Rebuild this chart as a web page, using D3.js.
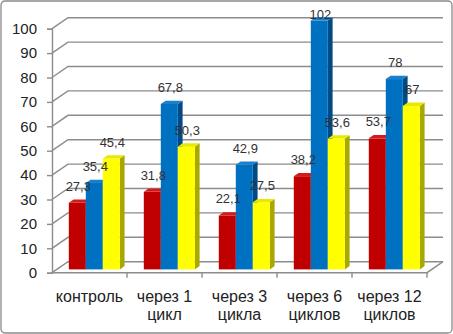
<!DOCTYPE html>
<html>
<head>
<meta charset="utf-8">
<script src="https://cdn.jsdelivr.net/npm/d3@7"></script>
<style>
  body { margin: 0; background: #fff; }
  text { font-family: "Liberation Sans", Arial, sans-serif; }
</style>
</head>
<body>
<svg id="chart" width="453" height="334"></svg>
<script>
// data
var categories = ["контроль", "через 1|цикл", "через 3|цикла", "через 6|циклов", "через 12|циклов"];
var series1 = [27.3, 31.8, 22.1, 38.2, 53.7];
var series2 = [35.4, 67.8, 42.9, 102, 78];
var series3 = [45.4, 50.3, 27.5, 53.6, 67];
var yTicks = [0, 10, 20, 30, 40, 50, 60, 70, 80, 90, 100];

var colors = [
    { front: "#c00000", side: "#7e0000", top: "#d21c1c" },
    { front: "#0070c0", side: "#004a86", top: "#1a80cc" },
    { front: "#ffff00", side: "#a8a800", top: "#e8e800" }
];

function drawChart() {
    var svg = d3.select("#chart");

    // outer frame
    svg.append("rect")
        .attr("x", 1).attr("y", 1).attr("width", 451).attr("height", 332)
        .attr("rx", 4)
        .attr("fill", "#fff").attr("stroke", "#8a8a8a").attr("stroke-width", 1.3);

    var pLeft = 52, pRight = 427, pBottom = 272.7, pTop = 28.7;
    var depth = { dx: 16, dy: -11 };
    var f0 = 0.3, f1 = 0.6;   // bar depth slice

    var x = d3.scaleBand().domain(d3.range(categories.length)).range([pLeft, pRight]);
    var y = d3.scaleLinear().domain([0, 100]).range([pBottom, pTop]);
    var bar = 17;
    var grid = "#8c8c8c";

    var g = svg.append("g");

    // back wall gridlines + left wall diagonals
    yTicks.forEach(function (t) {
        g.append("polyline")
            .attr("points", [[pLeft, y(t)], [pLeft + depth.dx, y(t) + depth.dy], [pRight + depth.dx, y(t) + depth.dy]].join(" "))
            .attr("fill", "none").attr("stroke", grid).attr("stroke-width", 1.4);
    });

    // floor
    g.append("polyline")
        .attr("points", [[pLeft, pBottom], [pRight, pBottom], [pRight + depth.dx, pBottom + depth.dy]].join(" "))
        .attr("fill", "none").attr("stroke", grid).attr("stroke-width", 1.4);

    // y axis
    var yAxis = g.append("g")
        .attr("transform", "translate(" + pLeft + ",0)")
        .call(d3.axisLeft(y).tickValues(yTicks).tickSize(5).tickPadding(10));
    yAxis.select(".domain").attr("stroke", grid).attr("stroke-width", 1.4);
    yAxis.selectAll(".tick line").attr("stroke", grid).attr("stroke-width", 1.4);
    yAxis.selectAll(".tick text").attr("font-size", 15).attr("fill", "#222")
        .attr("font-family", "Liberation Sans, Arial, sans-serif");

    // x axis ticks at category boundaries
    g.selectAll(".xtick")
        .data(d3.range(categories.length))
        .enter().append("line")
        .attr("x1", function (d) { return x(d) + x.bandwidth(); })
        .attr("x2", function (d) { return x(d) + x.bandwidth(); })
        .attr("y1", pBottom).attr("y2", pBottom + 5)
        .attr("stroke", grid).attr("stroke-width", 1.4);

    // category labels
    var cat = g.selectAll(".cat")
        .data(categories)
        .enter().append("text")
        .attr("text-anchor", "middle")
        .attr("font-size", 16)
        .attr("fill", "#222");
    cat.each(function (d, i) {
        var lines = d.split("|");
        var t = d3.select(this);
        lines.forEach(function (l, j) {
            t.append("tspan")
                .attr("x", x(i) + x.bandwidth() / 2)
                .attr("y", 302 + j * 18)
                .text(l);
        });
    });

    // bars
    var allSeries = [series1, series2, series3];
    var ox = depth.dx * f0, oy = depth.dy * f0;
    var sx = depth.dx * (f1 - f0), sy = depth.dy * (f1 - f0);
    var groupW = bar * allSeries.length;

    categories.forEach(function (c, i) {
        var x0 = x(i) + (x.bandwidth() - groupW) / 2 + ox;
        allSeries.forEach(function (s, k) {
            var v = s[i];
            var bx = x0 + k * bar;
            var yt = y(v) + oy, yb = y(0) + oy;
            var col = colors[k];
            // side
            g.append("polygon")
                .attr("points", [[bx + bar, yt], [bx + bar + sx, yt + sy], [bx + bar + sx, yb + sy], [bx + bar, yb]].join(" "))
                .attr("fill", col.side);
            // front
            g.append("rect")
                .attr("x", bx).attr("y", yt).attr("width", bar).attr("height", yb - yt)
                .attr("fill", col.front);
            // top
            g.append("polygon")
                .attr("points", [[bx, yt], [bx + bar, yt], [bx + bar + sx, yt + sy], [bx + sx, yt + sy]].join(" "))
                .attr("fill", col.top);
        });
    });

    // data labels
    categories.forEach(function (c, i) {
        var x0 = x(i) + (x.bandwidth() - groupW) / 2 + ox;
        allSeries.forEach(function (s, k) {
            var v = s[i];
            var yt = y(v) + oy;
            g.append("text")
                .attr("x", x0 + k * bar + bar / 2 + 1)
                .attr("y", Math.max(yt - 12, 19))
                .attr("text-anchor", "middle")
                .attr("font-size", 13)
                .attr("fill", "#333")
                .text(String(v).replace(".", ","));
        });
    });
}

drawChart();
</script>
</body>
</html>
